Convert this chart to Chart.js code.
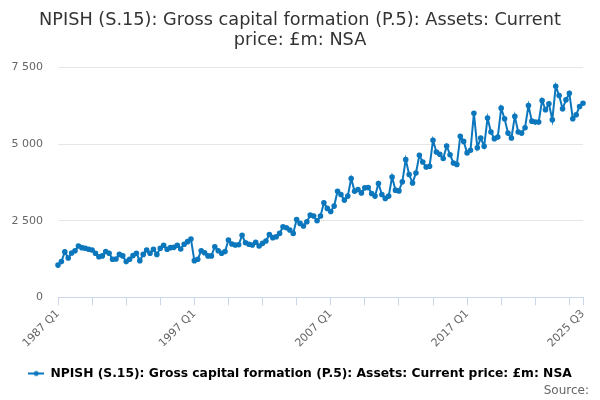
<!DOCTYPE html>
<html>
<head>
<meta charset="utf-8">
<script src="https://cdn.jsdelivr.net/npm/chart.js@4"></script>
<style>
  html, body { margin: 0; padding: 0; background: #fff; }
  #wrap { width: 600px; height: 400px; }
</style>
</head>
<body>
<div id="wrap"><canvas id="c" width="600" height="400"></canvas></div>
<script>
// ── Data ─────────────────────────────────────────────
const TITLE = ["NPISH (S.15): Gross capital formation (P.5): Assets: Current", "price: £m: NSA"];
const SERIES_NAME = "NPISH (S.15): Gross capital formation (P.5): Assets: Current price: £m: NSA";
const FIRST_YEAR = 1987;
const LAST_LABEL = "2025 Q3";

// quarterly values, £m, 1987 Q1 .. 2025 Q3
const values = [
  1050, 1165, 1480, 1280, 1445, 1520, 1675, 1620, 1600, 1565,
  1545, 1435, 1325, 1350, 1490, 1435, 1240, 1250, 1400, 1350,
  1165, 1240, 1360, 1435, 1195, 1400, 1545, 1435, 1565, 1400,
  1600, 1700, 1565, 1620, 1630, 1700, 1575, 1730, 1815, 1900,
  1195, 1240, 1520, 1455, 1350, 1350, 1650, 1520, 1435, 1490,
  1870, 1740, 1705, 1715, 2020, 1780, 1730, 1705, 1795, 1675,
  1760, 1835, 2050, 1945, 1975, 2085, 2300, 2270, 2195, 2085,
  2540, 2410, 2325, 2465, 2680, 2650, 2495, 2650, 3080, 2900,
  2800, 2975, 3460, 3355, 3170, 3300, 3875, 3460, 3515, 3405,
  3570, 3580, 3385, 3300, 3710, 3355, 3225, 3300, 3925, 3495,
  3470, 3765, 4490, 4005, 3730, 4055, 4630, 4415, 4250, 4275,
  5120, 4740, 4665, 4525, 4935, 4650, 4380, 4330, 5250, 5085,
  4710, 4795, 6005, 4880, 5195, 4925, 5845, 5390, 5175, 5225,
  6170, 5825, 5355, 5195, 5900, 5390, 5355, 5530, 6255, 5745,
  5715, 5715, 6420, 6115, 6310, 5790, 6885, 6580, 6150, 6440,
  6655, 5825, 5955, 6225, 6330,
];

const quarters = values.map((v, i) => (FIRST_YEAR + Math.floor(i / 4)) + " Q" + ((i % 4) + 1));

const Y_MIN = 0, Y_MAX = 7500, Y_STEP = 2500;
const TICK_EVERY = 10;   // tick marks every 10 quarters
const LABEL_EVERY = 40;  // labels every 10 years

const LINE = "#0c77bc";

function fmtNum(v) {
  return String(v).replace(/\B(?=(\d{3})+(?!\d))/g, " ");
}

// legend symbol: short line with a dot
function legendSymbol() {
  const cv = document.createElement("canvas");
  cv.width = 16; cv.height = 8;
  const g = cv.getContext("2d");
  g.strokeStyle = LINE; g.lineWidth = 2;
  g.beginPath(); g.moveTo(0, 4); g.lineTo(16, 4); g.stroke();
  g.fillStyle = LINE;
  g.beginPath(); g.arc(8, 4, 2.5, 0, Math.PI * 2); g.fill();
  return cv;
}

const last = values.length - 1;

new Chart(document.getElementById("c"), {
  type: "line",
  data: {
    labels: quarters,
    datasets: [{
      label: SERIES_NAME,
      data: values,
      borderColor: LINE,
      backgroundColor: LINE,
      borderWidth: 2,
      pointRadius: 1.8,
      pointHoverRadius: 3,
      tension: 0,
    }],
  },
  options: {
    responsive: false,
    animation: false,
    layout: { padding: { left: 11, right: 11, top: 0, bottom: 2 } },
    plugins: {
      title: {
        display: true,
        text: TITLE,
        color: "#333333",
        font: { family: "DejaVu Sans", size: 17.7, weight: "normal", lineHeight: 1.14 },
        padding: { top: 10, bottom: 17 },
      },
      subtitle: {
        display: true,
        text: "Source:",
        position: "bottom",
        align: "end",
        color: "#666666",
        font: { family: "DejaVu Sans", size: 12, weight: "normal" },
        padding: { top: -6, bottom: 0 },
      },
      legend: {
        position: "bottom",
        labels: {
          color: "#333333",
          font: { family: "DejaVu Sans", size: 12.3, weight: "bold" },
          usePointStyle: true,
          pointStyleWidth: 16,
          generateLabels: (chart) => [{
            text: SERIES_NAME,
            pointStyle: legendSymbol(),
            fillStyle: LINE,
            strokeStyle: LINE,
            lineWidth: 0,
            hidden: false,
            datasetIndex: 0,
          }],
          padding: 0,
        },
      },
      tooltip: { enabled: true },
    },
    scales: {
      x: {
        type: "category",
        afterFit: (s) => { s.height = 70; },
        grid: {
          drawOnChartArea: false,
          drawTicks: true,
          tickLength: 8,
          color: "#ccd6eb",
        },
        border: { color: "#ccd6eb" },
        ticks: {
          autoSkip: false,
          maxRotation: 45,
          minRotation: 45,
          padding: 2,
          color: "#666666",
          font: { family: "DejaVu Sans", size: 11 },
          callback: function (val, idx) {
            if (idx === last) return LAST_LABEL;
            if (idx % LABEL_EVERY === 0) return quarters[idx];
            if (idx % TICK_EVERY === 0) return "";
            return null;
          },
        },
      },
      y: {
        min: Y_MIN,
        max: Y_MAX,
        afterFit: (s) => { s.width = 47; },
        grid: { color: "#e6e6e6", drawTicks: false },
        border: { display: false },
        ticks: {
          stepSize: Y_STEP,
          padding: 15,
          color: "#666666",
          font: { family: "DejaVu Sans", size: 11 },
          callback: (v) => fmtNum(v),
        },
      },
      // empty right-hand spacer so the plot ends short of the canvas edge
      yRight: {
        position: "right",
        display: true,
        afterFit: (s) => { s.width = 6; },
        grid: { display: false },
        border: { display: false },
        ticks: { display: false },
      },
    },
  },
});
</script>
</body>
</html>
